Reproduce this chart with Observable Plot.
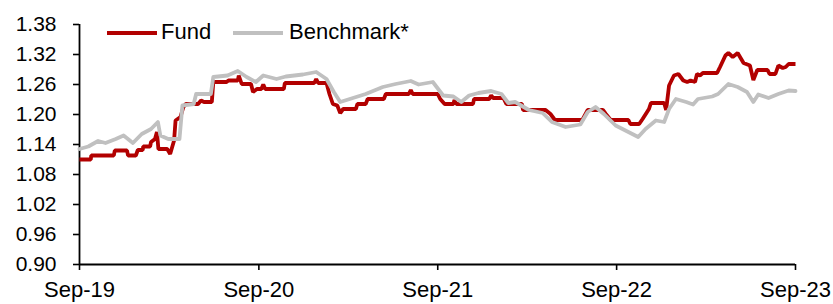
<!DOCTYPE html>
<html>
<head>
<meta charset="utf-8">
<script src="https://cdn.jsdelivr.net/npm/d3@7"></script>
<script src="https://cdn.jsdelivr.net/npm/@observablehq/plot@0.6"></script>
<style>
  html, body { margin: 0; padding: 0; background: #fff; }
  #wrap { position: relative; width: 833px; height: 304px; font-family: "Liberation Sans", Arial, sans-serif; }
  .sw { position: absolute; height: 4px; width: 50px; }
  .lt { position: absolute; font-size: 22px; line-height: 22px; color: #000; white-space: nowrap; }
</style>
</head>
<body>
<div id="wrap"></div>
<script>
// Series names and colours
const seriesNames = ["Fund", "Benchmark*"];
const seriesColors = ["#B20000", "#C0C0C0"];

// Fund (dates and values)
const fundDates = ["2019-09-30","2019-10-23","2019-10-24","2019-12-09","2019-12-11","2020-01-05","2020-01-07","2020-01-23","2020-01-27","2020-02-06","2020-02-07","2020-02-21","2020-02-23","2020-03-02","2020-03-06","2020-03-09","2020-03-27","2020-04-02","2020-04-10","2020-04-13","2020-04-23","2020-04-29","2020-05-04","2020-05-29","2020-06-04","2020-06-10","2020-06-26","2020-06-29","2020-07-26","2020-07-30","2020-08-18","2020-08-20","2020-08-26","2020-09-14","2020-09-18","2020-09-26","2020-10-05","2020-10-09","2020-10-13","2020-11-20","2020-11-22","2021-01-21","2021-01-25","2021-01-29","2021-02-15","2021-02-21","2021-02-28","2021-03-09","2021-03-15","2021-03-21","2021-04-16","2021-04-19","2021-05-06","2021-05-10","2021-06-12","2021-06-16","2021-08-02","2021-08-06","2021-08-10","2021-09-30","2021-10-05","2021-10-14","2021-11-01","2021-11-03","2021-11-07","2021-12-11","2021-12-13","2022-01-13","2022-01-17","2022-01-21","2022-02-11","2022-02-17","2022-03-21","2022-03-23","2022-05-08","2022-05-18","2022-05-27","2022-07-22","2022-08-02","2022-09-02","2022-09-08","2022-09-18","2022-10-24","2022-10-28","2022-11-15","2022-11-22","2022-12-05","2022-12-09","2023-01-05","2023-01-09","2023-01-15","2023-01-25","2023-02-03","2023-02-13","2023-02-21","2023-02-28","2023-03-09","2023-03-13","2023-03-19","2023-03-25","2023-04-23","2023-04-29","2023-05-10","2023-05-16","2023-05-25","2023-06-04","2023-06-16","2023-06-29","2023-07-06","2023-07-14","2023-08-04","2023-08-08","2023-08-20","2023-08-26","2023-09-04","2023-09-10","2023-09-16","2023-09-30"];
const fundValues = [1.110,1.110,1.118,1.118,1.128,1.128,1.118,1.118,1.129,1.129,1.136,1.136,1.145,1.151,1.165,1.131,1.131,1.121,1.148,1.188,1.195,1.215,1.221,1.221,1.228,1.225,1.225,1.265,1.265,1.268,1.268,1.278,1.261,1.261,1.245,1.251,1.251,1.260,1.251,1.251,1.263,1.263,1.271,1.263,1.263,1.241,1.221,1.218,1.203,1.211,1.211,1.221,1.221,1.231,1.231,1.241,1.241,1.249,1.241,1.241,1.231,1.221,1.221,1.229,1.221,1.221,1.231,1.231,1.238,1.233,1.233,1.221,1.221,1.209,1.209,1.201,1.189,1.189,1.209,1.209,1.201,1.189,1.189,1.181,1.181,1.191,1.211,1.223,1.223,1.209,1.258,1.278,1.281,1.268,1.265,1.268,1.265,1.281,1.278,1.283,1.283,1.295,1.318,1.323,1.315,1.323,1.303,1.298,1.269,1.289,1.289,1.281,1.281,1.298,1.293,1.295,1.301,1.301];

// Benchmark (dates and values)
const benchDates = ["2019-09-30","2019-10-18","2019-11-07","2019-11-22","2019-12-13","2019-12-29","2020-01-17","2020-02-04","2020-02-23","2020-03-08","2020-03-13","2020-03-29","2020-04-21","2020-04-27","2020-05-20","2020-05-25","2020-06-24","2020-06-29","2020-07-28","2020-08-18","2020-09-05","2020-09-24","2020-10-09","2020-11-05","2020-11-24","2020-12-29","2021-01-25","2021-02-15","2021-03-02","2021-03-15","2021-04-10","2021-05-06","2021-06-10","2021-07-06","2021-08-06","2021-08-22","2021-09-20","2021-10-11","2021-11-01","2021-11-17","2021-12-03","2021-12-22","2022-01-17","2022-02-07","2022-02-21","2022-03-07","2022-04-04","2022-05-02","2022-05-21","2022-06-18","2022-07-18","2022-08-02","2022-08-18","2022-09-04","2022-09-28","2022-10-24","2022-11-13","2022-11-28","2022-12-19","2023-01-05","2023-01-15","2023-01-29","2023-02-19","2023-03-05","2023-03-15","2023-04-13","2023-04-25","2023-05-16","2023-06-04","2023-06-23","2023-07-06","2023-07-16","2023-08-06","2023-08-26","2023-09-16","2023-09-30"];
const benchValues = [1.131,1.136,1.147,1.143,1.151,1.158,1.143,1.161,1.171,1.185,1.158,1.151,1.151,1.218,1.221,1.241,1.241,1.275,1.278,1.287,1.275,1.265,1.278,1.271,1.276,1.280,1.285,1.271,1.245,1.225,1.233,1.241,1.255,1.261,1.267,1.260,1.265,1.238,1.236,1.225,1.238,1.243,1.247,1.241,1.223,1.225,1.209,1.203,1.185,1.175,1.180,1.205,1.215,1.201,1.178,1.165,1.155,1.171,1.188,1.185,1.211,1.231,1.225,1.220,1.231,1.236,1.241,1.261,1.255,1.245,1.225,1.240,1.233,1.241,1.248,1.247];

// Axis ticks
const xTickDates = ["2019-09-30","2020-09-30","2021-09-30","2022-09-30","2023-09-30"];
const xTickLabels = ["Sep-19","Sep-20","Sep-21","Sep-22","Sep-23"];
const yTicks = [0.90,0.96,1.02,1.08,1.14,1.20,1.26,1.32,1.38];

const parse = d3.utcParse("%Y-%m-%d");
const fund = fundDates.map((d, i) => ({date: parse(d), value: fundValues[i]}));
const bench = benchDates.map((d, i) => ({date: parse(d), value: benchValues[i]}));
const xTicks = xTickDates.map(parse);
const labelOf = new Map(xTicks.map((d, i) => [+d, xTickLabels[i]]));

const chart = Plot.plot({
  width: 833,
  height: 304,
  marginLeft: 79,
  marginRight: 38,
  marginTop: 24,
  marginBottom: 40,
  style: {fontFamily: "'Liberation Sans', Arial, sans-serif", color: "#000", background: "transparent", overflow: "visible"},
  x: {type: "utc", domain: [xTicks[0], xTicks[xTicks.length - 1]]},
  y: {domain: [yTicks[0], yTicks[yTicks.length - 1]]},
  marks: [
    Plot.axisY({ticks: yTicks, tickFormat: d3.format(".2f"), tickSize: 6, tickPadding: 17, strokeWidth: 1.6, label: null, fontSize: 21}),
    Plot.axisX({ticks: xTicks, tickFormat: d => labelOf.get(+d), tickSize: 6, tickPadding: 11, strokeWidth: 1.6, label: null, fontSize: 22}),
    Plot.ruleX([xTicks[0]], {stroke: "#000", strokeWidth: 1.8}),
    Plot.ruleY([yTicks[0]], {stroke: "#000", strokeWidth: 1.8}),
    Plot.line(fund, {x: "date", y: "value", stroke: seriesColors[0], strokeWidth: 3.8, strokeLinejoin: "miter", strokeLinecap: "butt"}),
    Plot.line(bench, {x: "date", y: "value", stroke: seriesColors[1], strokeWidth: 3.8, strokeLinejoin: "round"})
  ]
});

const wrap = document.getElementById("wrap");
wrap.appendChild(chart);

// Legend overlay
const legendItems = [
  {swatchLeft: 107, textLeft: 161},
  {swatchLeft: 233, textLeft: 289}
];
legendItems.forEach((it, i) => {
  const sw = document.createElement("div");
  sw.className = "sw";
  sw.style.left = it.swatchLeft + "px";
  sw.style.top = "31px";
  sw.style.background = seriesColors[i];
  wrap.appendChild(sw);
  const t = document.createElement("div");
  t.className = "lt";
  t.style.left = it.textLeft + "px";
  t.style.top = "21px";
  t.textContent = seriesNames[i];
  wrap.appendChild(t);
});
</script>
</body>
</html>
